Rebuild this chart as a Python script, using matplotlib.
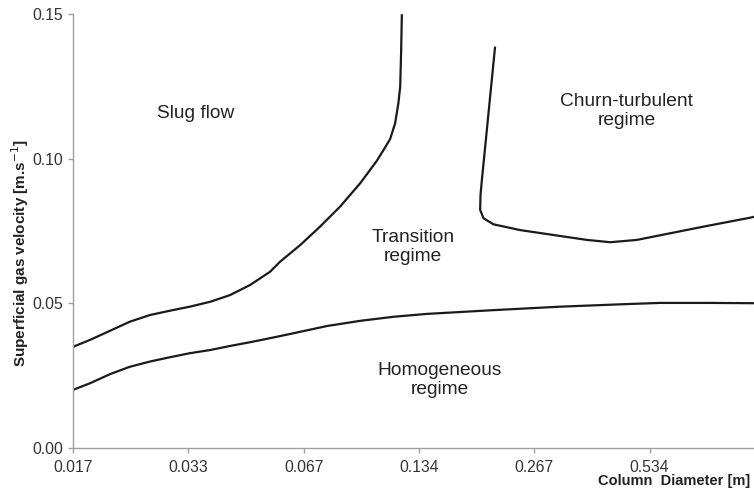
import matplotlib.pyplot as plt
from matplotlib.ticker import FixedLocator, NullLocator

plt.rcParams["font.family"] = ["Liberation Sans", "DejaVu Sans"]

# column diameter [m] and superficial gas velocity [m/s]
homog_d = [0.0167, 0.0185, 0.0209, 0.0235, 0.0265, 0.0299, 0.0337, 0.0381,
           0.0429, 0.0484, 0.0546, 0.0628, 0.0768, 0.0938, 0.1146, 0.1400,
           0.2089, 0.3120, 0.4660, 0.5692, 0.7689, 1.0]
homog_u = [0.0200, 0.0223, 0.0255, 0.0280, 0.0298, 0.0313, 0.0327, 0.0338,
           0.0352, 0.0365, 0.0379, 0.0396, 0.0421, 0.0439, 0.0453, 0.0463,
           0.0476, 0.0488, 0.0497, 0.0501, 0.0501, 0.0500]

slug_d = [0.0167, 0.0185, 0.0209, 0.0235, 0.0265, 0.0299, 0.0337, 0.0381,
          0.0429, 0.0484, 0.0546, 0.0580, 0.0654, 0.0737, 0.0831, 0.0938,
          0.1037, 0.1079, 0.1123, 0.1157, 0.1180, 0.1193, 0.1200, 0.1205]
slug_u = [0.0349, 0.0373, 0.0405, 0.0436, 0.0459, 0.0474, 0.0488, 0.0505,
          0.0528, 0.0563, 0.0609, 0.0644, 0.0701, 0.0765, 0.0834, 0.0915,
          0.0993, 0.1030, 0.1068, 0.1122, 0.1192, 0.1249, 0.1376, 0.150]

churn_d = [0.211, 0.2028, 0.1949, 0.1933, 0.1929, 0.1968, 0.2089, 0.2453,
           0.2998, 0.3664, 0.4215, 0.4948, 0.6044, 0.7385, 0.9778, 1.0]
churn_u = [0.1388, 0.1157, 0.0926, 0.0874, 0.0823, 0.0794, 0.0773, 0.0753,
           0.0736, 0.0719, 0.0711, 0.0719, 0.0742, 0.0765, 0.0796, 0.0799]

tick_d = [0.0167, 0.0334, 0.0668, 0.1336, 0.267, 0.534]
tick_labels = ["0.017", "0.033", "0.067", "0.134", "0.267", "0.534"]
y_ticks = [0.00, 0.05, 0.10, 0.15]

regions = [
    ("Slug flow", 0.0348, 0.1158),
    ("Transition\nregime", 0.129, 0.0694),
    ("Churn-turbulent\nregime", 0.466, 0.1165),
    ("Homogeneous\nregime", 0.151, 0.0234),
]

fig = plt.figure(figsize=(7.54, 4.97), dpi=100)
ax = fig.add_axes([0.0968, 0.0992, 0.9032, 0.8722])

line_kw = dict(color="#1a1a1a", lw=1.6, solid_joinstyle="round",
               solid_capstyle="butt")
ax.plot(homog_d, homog_u, **line_kw)
ax.plot(slug_d, slug_u, **line_kw)
ax.plot(churn_d, churn_u, **line_kw)

ax.set_xscale("log", base=2)
ax.set_xlim(0.0167, 1.0)
ax.set_ylim(0, 0.15)
ax.xaxis.set_major_locator(FixedLocator(tick_d))
ax.xaxis.set_minor_locator(NullLocator())
ax.set_xticklabels(tick_labels)
ax.set_yticks(y_ticks)
ax.set_yticklabels([f"{v:.2f}" for v in y_ticks])

for s in ["top", "right"]:
    ax.spines[s].set_visible(False)
for s in ["left", "bottom"]:
    ax.spines[s].set_color("#a0a0a0")
    ax.spines[s].set_linewidth(1.0)
ax.tick_params(axis="both", direction="out", length=3.5, width=1.0,
               color="#a0a0a0", labelsize=11.3, labelcolor="#333333")
ax.tick_params(axis="x", pad=5)
ax.tick_params(axis="y", pad=3.5)

for text, d, u in regions:
    ax.text(d, u, text, ha="center", va="center", fontsize=13.8,
            color="#222222", linespacing=1.15)

fig.text(0.027, 0.49, "Superficial gas velocity [m.s$^{-1}$]", rotation=90,
         ha="center", va="center", fontsize=11, fontweight="bold",
         color="#222222")
fig.text(0.995, 0.018, "Column  Diameter [m]", ha="right", va="bottom",
         fontsize=10.5, fontweight="bold", color="#222222")

fig.savefig("out.png", dpi=100)
